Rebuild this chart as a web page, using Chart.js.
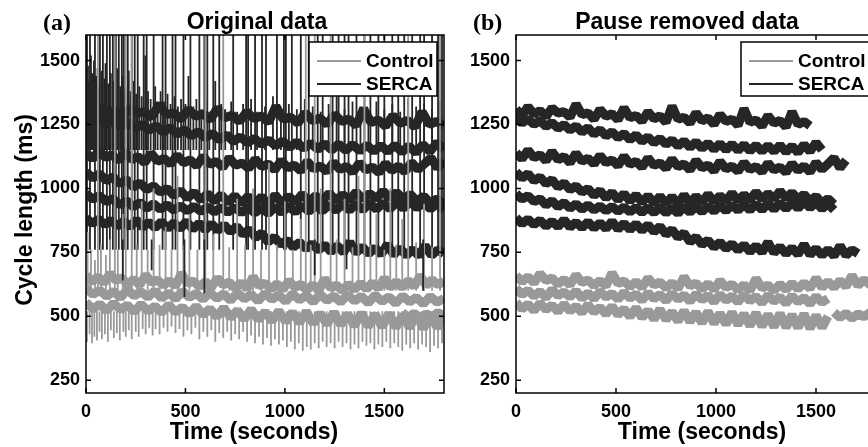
<!DOCTYPE html>
<html>
<head>
<meta charset="utf-8">
<script src="https://cdn.jsdelivr.net/npm/chart.js@4.4.1/dist/chart.umd.min.js"></script>
<style>
  html, body { margin: 0; padding: 0; background: #fff; overflow: hidden; }
  body { width: 868px; height: 447px; position: relative; }
  .panel { position: absolute; top: 0; width: 460px; height: 447px; }
  #wrapA { left: 0; }
  #wrapB { left: 430px; }
</style>
</head>
<body>
<div class="panel" id="wrapA"><canvas id="chartA" width="460" height="447"></canvas></div>
<div class="panel" id="wrapB"><canvas id="chartB" width="460" height="447"></canvas></div>
<script>
// Time axis
const sampleStep = 30;      // seconds between samples of the pause-removed traces
const recordLength = 1800;  // seconds in the original recording
const xTickValues = [0, 500, 1000, 1500];
const yTickValues = [250, 500, 750, 1000, 1250, 1500];
const seriesNames = ['Control', 'SERCA'];

// SERCA cycle lengths (ms), pause removed
const serca1 = [1310,1285,1320,1290,1305,1280,1315,1295,1300,1278,1330,1288,1296,1270,1310,1282,1292,1268,1315,1276,1286,1262,1300,1272,1284,1258,1322,1270,1279,1255,1296,1264,1276,1250,1290,1262,1271,1246,1312,1258,1268,1243,1285,1255,1266,1240,1300,1250,1262,1245];
const serca2 = [1278,1255,1272,1250,1265,1242,1258,1235,1250,1228,1245,1220,1238,1212,1230,1205,1222,1198,1215,1190,1210,1184,1202,1178,1196,1172,1190,1166,1186,1160,1182,1156,1178,1152,1176,1150,1174,1148,1172,1146,1170,1145,1168,1144,1170,1142,1166,1140,1172,1144,1180,1150];
const serca3 = [1140,1115,1150,1120,1132,1108,1145,1112,1125,1100,1138,1106,1118,1095,1130,1100,1112,1088,1126,1094,1106,1082,1120,1090,1100,1078,1115,1085,1096,1072,1110,1080,1092,1068,1106,1076,1088,1066,1102,1074,1086,1064,1100,1072,1084,1062,1098,1070,1088,1064,1102,1074,1096,1120,1080,1110];
const serca4 = [1065,1040,1058,1030,1045,1018,1035,1005,1022,995,1010,985,1000,972,992,962,985,955,980,950,975,945,972,942,970,940,968,938,975,942,970,945,978,948,972,950,982,952,976,955,986,958,980,960,990,962,984,958,978,950,970,942,960,938];
const serca5 = [980,958,972,948,960,935,952,928,945,922,940,918,936,915,932,912,930,910,928,908,926,906,925,905,926,904,924,902,928,906,930,908,932,910,934,912,936,914,938,915,940,916,942,918,944,920,946,922,948,924,945,920,940,915];
const serca6 = [885,862,880,858,876,852,872,850,878,848,868,846,870,844,866,842,872,840,864,838,862,836,858,830,852,820,840,808,826,790,810,780,798,770,790,764,784,758,780,752,776,750,790,748,772,744,768,742,782,740,766,738,762,736,776,738,760,745];

// Control cycle lengths (ms), pause removed
const control1 = [660,635,655,630,668,640,650,625,645,622,662,632,642,620,640,618,670,628,638,615,636,612,650,622,634,610,632,608,655,618,630,606,628,604,640,612,626,602,624,600,648,610,622,600,626,604,630,606,632,608,650,612,636,612,640,616,660,620,644,622,640];
const control2 = [610,585,602,578,598,572,605,580,596,575,600,570,592,568,598,574,590,566,594,570,588,562,592,568,586,560,590,566,584,558,588,564,582,556,586,562,580,555,585,560,578,552,583,558,576,550,580,556,574,548,578,554,570];
const control3 = [555,528,548,522,552,526,544,518,548,520,540,514,546,516,536,508,540,505,530,498,534,494,524,488,528,486,518,480,522,478,516,474,520,472,512,468,516,466,510,462,514,460,508,458,512,456,506,455,510,452,504,456,500];
const control4 = [515,495,512,492,510,498,515,500];
const control4Start = 1590;

// Pauses and irregular beats in the original data (panel a)
const offScale = 1700; // pause lengths beyond the top of the axis
const sercaPauseTimes = [5,20,45,70,85,105,120,135,150,165,180,190,210,230,245,260,290,305,340,385,400,435,450,490,525,570,595,610,640,670,740,805,815,850,885,905,960,995,1005,1035,1080,1120,1165,1190,1240,1270,1300,1320,1360,1400,1430,1470,1500,1540,1570,1600,1640,1680,1700,1740,1770,1790];
const sercaLongBeats = [[10,1480],[15,1420],[25,1520],[32,1450],[40,1500],[50,1440],[58,1470],[65,1400],[78,1460],[92,1430],[98,1490],[112,1410],[125,1450],[140,1420],[158,1470],[172,1400],[185,1440],[198,1390],[215,1460],[225,1380],[238,1420],[252,1370],[268,1400],[280,1360],[298,1520],[312,1380],[325,1350],[348,1400],[360,1340],[375,1380],[392,1340],[410,1370],[425,1330],[445,1360],[462,1320],[478,1350],[500,1330],[515,1440],[540,1320],[555,1350],[580,1310],[600,1340],[620,1300],[650,1420],[680,1330],[700,1310],[730,1340],[760,1300],[790,1330],[830,1350],[860,1300],[900,1320],[940,1360],[980,1310],[1020,1330],[1060,1310],[1100,1350],[1140,1320],[1180,1300],[1220,1330],[1260,1360],[1300,1310],[1340,1340],[1380,1320],[1420,1300],[1460,1340],[1500,1310],[1540,1330],[1580,1300],[1620,1350],[1660,1320],[1700,1330],[1740,1310],[1780,1340]];
const sercaShortBeats = [[185,640],[330,680],[495,575],[595,590],[1150,660],[1310,684],[1695,600]];
const controlPauseTimes = [60,145,200,230,600,690,1105,1150,1230,1400,1620,1780];
const controlLongBeats = [[8,830],[25,760],[45,720],[75,780],[100,740],[120,800],[160,760],[185,900],[255,780],[280,950],[310,760],[340,1000],[370,780],[400,850],[430,760],[460,1050],[490,780],[520,900],[560,760],[640,820],[720,770],[760,960],[800,780],[840,1000],[880,760],[920,1100],[960,780],[1000,950],[1040,760],[1080,880],[1130,780],[1180,1000],[1260,800],[1300,960],[1340,770],[1370,1050],[1430,780],[1460,900],[1500,760],[1530,1000],[1560,780],[1590,880],[1660,790],[1700,940],[1740,770]];
const controlShortBeats = [[5,400],[18,430],[30,395],[42,420],[55,405],[68,440],[80,410],[95,430],[110,400],[125,445],[140,415],[155,435],[170,405],[188,440],[200,420],[215,445],[230,410],[250,440],[265,420],[285,450],[300,430],[318,455],[335,425],[350,450],[370,430],[390,455],[410,440],[430,460],[450,435],[470,450],[490,420],[510,445],[530,430],[550,455],[570,410],[590,440],[610,420],[630,445],[650,400],[670,435],[690,415],[710,440],[730,405],[750,430],[770,410],[790,440],[810,400],[830,425],[850,395],[870,420],[890,390],[910,415],[930,385],[950,410],[970,390],[990,405],[1010,380],[1030,400],[1050,370],[1070,395],[1090,365],[1110,380],[1130,370],[1150,395],[1170,375],[1190,400],[1210,380],[1230,395],[1250,375],[1270,400],[1290,380],[1310,395],[1330,370],[1350,390],[1370,375],[1390,400],[1410,385],[1430,395],[1450,370],[1470,390],[1490,380],[1510,400],[1530,375],[1550,395],[1570,380],[1590,365],[1610,390],[1630,375],[1650,395],[1670,370],[1690,390],[1710,380],[1730,360],[1750,385],[1770,375],[1790,395]];

const sercaColor = '#262626';
const controlColor = '#999999';
const fontSans = '"Liberation Sans", Arial, sans-serif';

/**
 * Turn a pause-removed trace into points. With stretch set, the trace is
 * spread back over the full recording, as it was before pauses were cut.
 */
function traceData(values, start, stretch) {
    const end = start + (values.length - 1) * sampleStep;
    const k = stretch ? recordLength / end : 1;
    return values.map((v, i) => ({ x: (start + i * sampleStep) * k, y: v }));
}

/**
 * Vertical excursions from a base value, split by gaps
 */
function spikeData(pairs, base) {
    const pts = [];
    pairs.forEach(([t, peak]) => {
        pts.push({ x: t, y: base }, { x: t, y: peak }, { x: t, y: null });
    });
    return pts;
}

function traceSet(data, color, width, order) {
    return {
        data: data,
        borderColor: color,
        borderWidth: width,
        borderJoinStyle: 'bevel',
        pointRadius: 0,
        tension: 0,
        spanGaps: false,
        order: order
    };
}

const sercaTraces = [serca1, serca2, serca3, serca4, serca5, serca6];
const controlTraces = [control1, control2, control3];

function buildDatasets(original) {
    const sets = [];
    const w = 9;
    sercaTraces.forEach(vals => sets.push(traceSet(traceData(vals, 0, original), sercaColor, w, 10)));
    controlTraces.forEach(vals => sets.push(traceSet(traceData(vals, 0, original), controlColor, w, 6)));
    sets.push(traceSet(traceData(control4, control4Start, original), controlColor, w, 6));

    if (original) {
        sets.push(traceSet(spikeData(sercaLongBeats, 1150), sercaColor, 1.8, 9));
        sets.push(traceSet(spikeData(sercaPauseTimes.map(t => [t, offScale]), 760), sercaColor, 1.8, 8));
        sets.push(traceSet(spikeData(controlLongBeats, 600), controlColor, 1.8, 5));
        sets.push(traceSet(spikeData(controlPauseTimes.map(t => [t, offScale]), 600), controlColor, 1.8, 5));
        sets.push(traceSet(spikeData(controlShortBeats, 520), controlColor, 1.8, 5));
        sets.push(traceSet(spikeData(sercaShortBeats, 800), sercaColor, 1.8, 2));
    }
    return sets;
}

/**
 * Draws the MATLAB style box, inward ticks, legend and panel texts
 */
const framePlugin = {
    id: 'frame',
    afterDatasetsDraw(chart, args, opts) {
        const { ctx, chartArea: a, scales: { x, y } } = chart;
        ctx.save();

        // box and inward ticks
        ctx.strokeStyle = '#000';
        ctx.lineWidth = 1.5;
        ctx.strokeRect(a.left, a.top, a.right - a.left, a.bottom - a.top);
        ctx.beginPath();
        xTickValues.forEach(v => {
            const px = x.getPixelForValue(v);
            ctx.moveTo(px, a.bottom); ctx.lineTo(px, a.bottom - 5);
            ctx.moveTo(px, a.top); ctx.lineTo(px, a.top + 5);
        });
        yTickValues.forEach(v => {
            const py = y.getPixelForValue(v);
            ctx.moveTo(a.left, py); ctx.lineTo(a.left + 5, py);
            ctx.moveTo(a.right, py); ctx.lineTo(a.right - 5, py);
        });
        ctx.stroke();

        // legend
        const left = a.right - 135, right = a.right - 7;
        const top = a.top + 7, bottom = a.top + 61;
        ctx.fillStyle = '#fff';
        ctx.fillRect(left, top, right - left, bottom - top);
        ctx.strokeStyle = '#000';
        ctx.lineWidth = 1.5;
        ctx.strokeRect(left, top, right - left, bottom - top);
        ctx.font = 'bold 19px ' + fontSans;
        ctx.textAlign = 'left';
        ctx.textBaseline = 'middle';
        [[seriesNames[0], controlColor, top + 19], [seriesNames[1], sercaColor, top + 42]].forEach(([name, color, yy]) => {
            ctx.strokeStyle = color;
            ctx.lineWidth = 2;
            ctx.beginPath();
            ctx.moveTo(left + 8, yy);
            ctx.lineTo(left + 52, yy);
            ctx.stroke();
            ctx.fillStyle = '#000';
            ctx.fillText(name, left + 57, yy + 1);
        });

        // titles
        ctx.fillStyle = '#000';
        ctx.textBaseline = 'alphabetic';
        ctx.textAlign = 'center';
        ctx.font = 'bold 23px ' + fontSans;
        ctx.fillText(opts.title, opts.titleX, 29);
        ctx.fillText('Time (seconds)', opts.xLabelX, 439);
        ctx.textAlign = 'left';
        ctx.font = 'bold 24px "Liberation Serif", "Times New Roman", serif';
        ctx.fillText(opts.tag, 43, 30);
        if (opts.yLabel) {
            ctx.save();
            ctx.translate(32, 210);
            ctx.rotate(-Math.PI / 2);
            ctx.textAlign = 'center';
            ctx.font = 'bold 23px ' + fontSans;
            ctx.fillText(opts.yLabel, 0, 0);
            ctx.restore();
        }
        ctx.restore();
    }
};

function makeChart(id, original, frame, padRight) {
    return new Chart(document.getElementById(id), {
        type: 'line',
        data: { datasets: buildDatasets(original) },
        options: {
            responsive: false,
            animation: false,
            events: [],
            layout: { padding: { top: 35, left: 0, right: padRight, bottom: 0 } },
            plugins: {
                legend: { display: false },
                tooltip: { enabled: false },
                frame: frame
            },
            scales: {
                x: {
                    type: 'linear',
                    min: 0,
                    max: recordLength,
                    grid: { display: false, drawTicks: false },
                    border: { display: false },
                    afterBuildTicks: s => { s.ticks = xTickValues.map(v => ({ value: v })); },
                    afterFit: s => { s.height = 54; },
                    ticks: {
                        padding: 8,
                        color: '#000',
                        maxRotation: 0,
                        font: { family: fontSans, size: 18, weight: 'bold' },
                        callback: v => String(v)
                    }
                },
                y: {
                    min: 200,
                    max: 1600,
                    grid: { display: false, drawTicks: false },
                    border: { display: false },
                    afterBuildTicks: s => { s.ticks = yTickValues.map(v => ({ value: v })); },
                    afterFit: s => { s.width = 86; },
                    ticks: {
                        padding: 6,
                        color: '#000',
                        font: { family: fontSans, size: 18, weight: 'bold' },
                        callback: v => String(v)
                    }
                }
            }
        },
        plugins: [framePlugin]
    });
}

makeChart('chartA', true, { title: 'Original data', tag: '(a)', titleX: 257, xLabelX: 254, yLabel: 'Cycle length (ms)' }, 16);
makeChart('chartB', false, { title: 'Pause removed data', tag: '(b)', titleX: 257, xLabelX: 272, yLabel: null }, 14);
</script>
</body>
</html>
